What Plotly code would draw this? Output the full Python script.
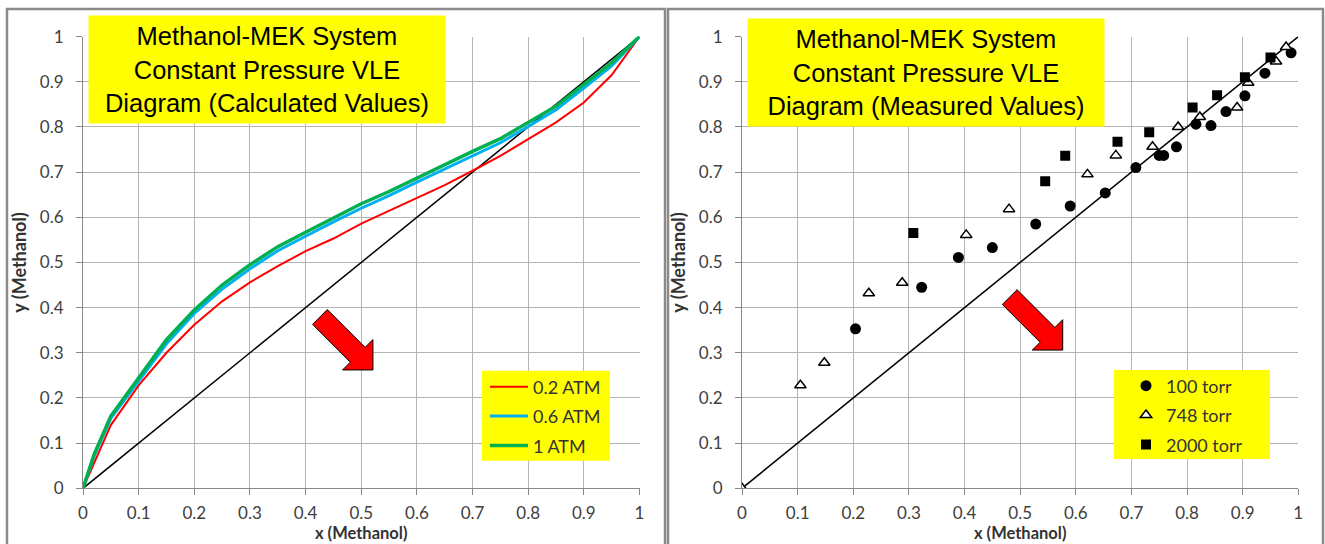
import plotly.graph_objects as go

# ---- Calculated equilibrium curves (x = liquid, y = vapour mole fraction of methanol)
x_calc = [0, 0.02, 0.05, 0.10, 0.15, 0.20, 0.25, 0.30, 0.35, 0.40, 0.45,
          0.50, 0.55, 0.60, 0.65, 0.70, 0.75, 0.80, 0.85, 0.90, 0.95, 1.0]
y_02atm = [0, 0.055, 0.140, 0.228, 0.300, 0.362, 0.414, 0.456, 0.492, 0.525, 0.553,
           0.586, 0.614, 0.643, 0.671, 0.703, 0.736, 0.773, 0.810, 0.854, 0.915, 1.0]
y_06atm = [0, 0.072, 0.155, 0.238, 0.320, 0.387, 0.441, 0.486, 0.526, 0.558, 0.590,
           0.620, 0.648, 0.678, 0.707, 0.737, 0.765, 0.801, 0.838, 0.886, 0.935, 1.0]
y_1atm = [0, 0.075, 0.160, 0.244, 0.329, 0.395, 0.450, 0.495, 0.535, 0.567, 0.598,
          0.630, 0.657, 0.687, 0.716, 0.746, 0.774, 0.809, 0.846, 0.894, 0.942, 1.0]

# ---- Measured equilibrium data
x_100torr = [0.204, 0.323, 0.389, 0.450, 0.528, 0.590, 0.653, 0.708, 0.750, 0.758,
             0.781, 0.816, 0.843, 0.870, 0.904, 0.940, 0.987]
y_100torr = [0.353, 0.445, 0.511, 0.533, 0.585, 0.625, 0.654, 0.710, 0.737, 0.737,
             0.756, 0.806, 0.803, 0.834, 0.869, 0.919, 0.964]
x_748torr = [0.0, 0.105, 0.148, 0.228, 0.288, 0.403, 0.480, 0.621, 0.672, 0.738,
             0.784, 0.823, 0.890, 0.910, 0.960, 0.978]
y_748torr = [0.0, 0.228, 0.278, 0.432, 0.455, 0.561, 0.618, 0.695, 0.737, 0.756,
             0.800, 0.822, 0.843, 0.898, 0.945, 0.977]
x_2000torr = [0.308, 0.545, 0.581, 0.675, 0.732, 0.810, 0.854, 0.904, 0.950]
y_2000torr = [0.565, 0.680, 0.736, 0.767, 0.788, 0.843, 0.870, 0.910, 0.954]

# ---- y = x reference line and axis ticks
diag = [0, 1]
tick_vals = [0, 0.1, 0.2, 0.3, 0.4, 0.5, 0.6, 0.7, 0.8, 0.9, 1.0]
tick_text = ["0", "0.1", "0.2", "0.3", "0.4", "0.5", "0.6", "0.7", "0.8", "0.9", "1"]

W, H = 1325, 544


def px(v):
    return v / W


def py(v):
    return 1 - v / H


fig = go.Figure()

# left panel: calculated curves
fig.add_trace(go.Scatter(x=diag, y=diag, mode="lines", line=dict(color="black", width=1.5),
                         showlegend=False, hoverinfo="skip", xaxis="x", yaxis="y"))
fig.add_trace(go.Scatter(x=x_calc, y=y_02atm, mode="lines", name="0.2 ATM",
                         line=dict(color="#FF0000", width=2), legend="legend",
                         legendgroup="a", xaxis="x", yaxis="y"))
fig.add_trace(go.Scatter(x=x_calc, y=y_06atm, mode="lines", name="0.6 ATM",
                         line=dict(color="#00B0F0", width=3), legend="legend",
                         legendgroup="b", xaxis="x", yaxis="y"))
fig.add_trace(go.Scatter(x=x_calc, y=y_1atm, mode="lines", name="1 ATM",
                         line=dict(color="#00B050", width=3.5), legend="legend",
                         legendgroup="c", xaxis="x", yaxis="y"))

# right panel: measured points
fig.add_trace(go.Scatter(x=diag, y=diag, mode="lines", line=dict(color="black", width=1.5),
                         showlegend=False, hoverinfo="skip", xaxis="x2", yaxis="y2"))
fig.add_trace(go.Scatter(x=x_100torr, y=y_100torr, mode="markers", name="100 torr",
                         marker=dict(symbol="circle", size=11, color="black"),
                         legend="legend2", legendgroup="d", xaxis="x2", yaxis="y2"))
fig.add_trace(go.Scatter(x=x_748torr, y=y_748torr, mode="markers", name="748 torr",
                         marker=dict(symbol="triangle-up", size=10, color="white",
                                     line=dict(color="black", width=1.5)),
                         legend="legend2", legendgroup="e", xaxis="x2", yaxis="y2"))
fig.add_trace(go.Scatter(x=x_2000torr, y=y_2000torr, mode="markers", name="2000 torr",
                         marker=dict(symbol="square", size=10, color="black"),
                         legend="legend2", legendgroup="f", xaxis="x2", yaxis="y2"))

axis_style = dict(
    range=[0, 1], tickmode="array", tickvals=tick_vals, ticktext=tick_text,
    showgrid=True, gridcolor="#b4b4b4", gridwidth=1, zeroline=False,
    showline=True, linecolor="#868686", linewidth=1,
    ticks="outside", ticklen=6, tickcolor="#868686",
    tickfont=dict(family="Lato", size=17, color="#404040"),
    fixedrange=True, automargin=False,
)
title_font = dict(family="Lato", size=18, color="#333333", weight="bold")
xtitle_font = dict(family="Lato", size=16.5, color="#333333", weight="bold")
legend_font = dict(family="Lato", size=18, color="#333333")

y_dom = [py(488.3), py(36.6)]
xl_dom = [px(83), px(639.5)]
xr_dom = [px(742), px(1298.3)]
fig.update_layout(
    width=W, height=H, margin=dict(l=0, r=0, t=0, b=0),
    paper_bgcolor="white", plot_bgcolor="white",
    xaxis=dict(axis_style, domain=xl_dom, anchor="y", ticklabelstandoff=3),
    yaxis=dict(axis_style, domain=y_dom, anchor="x", ticklabelstandoff=9,
               title=dict(text="y (Methanol)", font=title_font, standoff=8)),
    xaxis2=dict(axis_style, domain=xr_dom, anchor="y2", ticklabelstandoff=3),
    yaxis2=dict(axis_style, domain=y_dom, anchor="x2", ticklabelstandoff=9,
                title=dict(text="y (Methanol)", font=title_font, standoff=8)),
    legend=dict(x=px(485), y=py(368.5), xanchor="left", yanchor="top",
                bgcolor="rgba(0,0,0,0)", borderwidth=0, tracegroupgap=3, itemwidth=38,
                font=legend_font),
    legend2=dict(x=px(1126), y=py(367.5), xanchor="left", yanchor="top",
                 bgcolor="rgba(0,0,0,0)", borderwidth=0, tracegroupgap=3,
                 font=legend_font),
)

# x-axis titles, sitting at the lower edge of each panel
for dom in (xl_dom, xr_dom):
    fig.add_annotation(xref="paper", yref="paper", x=(dom[0] + dom[1]) / 2, y=py(533),
                       xanchor="center", yanchor="middle", showarrow=False,
                       text="x (Methanol)", font=xtitle_font)

# yellow legend backgrounds
for x0, x1, y0, y1 in [(482, 610, 370.7, 460.7), (1114, 1270, 370, 459)]:
    fig.add_shape(type="rect", xref="paper", yref="paper", x0=px(x0), x1=px(x1),
                  y0=py(y1), y1=py(y0), fillcolor="#FFFF00", line=dict(width=0),
                  layer="above")

# chart-area outlines of the two panels
border = dict(color="#8a8a8a", width=2.5)
fig.add_shape(type="rect", xref="paper", yref="paper", x0=px(7), x1=px(665),
              y0=-0.2, y1=py(9), line=border, fillcolor="rgba(0,0,0,0)", layer="above")
fig.add_shape(type="rect", xref="paper", yref="paper", x0=px(668), x1=px(1323),
              y0=-0.2, y1=py(9), line=border, fillcolor="rgba(0,0,0,0)", layer="above")

# red block arrows (pixel-sized path anchored at the arrow tip)
arrow_path = ("M0,0 L0,30.4 L-7.8,22.6 L-45.6,60.4 L-60.4,45.6 "
              "L-22.6,7.8 L-30.4,0 Z")
for xr, yr, xa, ya in [("x", "y", 0.521, 0.262), ("x2", "y2", 0.5765, 0.306)]:
    fig.add_shape(type="path", xref=xr, yref=yr, xsizemode="pixel", ysizemode="pixel",
                  xanchor=xa, yanchor=ya, path=arrow_path,
                  fillcolor="#FF0000", line=dict(color="black", width=1), layer="above")

# yellow title boxes
box_font = dict(family="Liberation Sans", size=25.5, color="black")
for cx, cy, label in [(267, 69.5, "Calculated Values"), (925.5, 73, "Measured Values")]:
    fig.add_annotation(
        xref="paper", yref="paper", x=px(cx), y=py(cy), xanchor="center", yanchor="middle",
        text=f"Methanol-MEK System<br>Constant Pressure VLE<br>Diagram ({label})",
        showarrow=False, align="center", bgcolor="#FFFF00", width=352, height=103,
        borderpad=2, font=box_font,
    )

fig.write_html("out.html")
